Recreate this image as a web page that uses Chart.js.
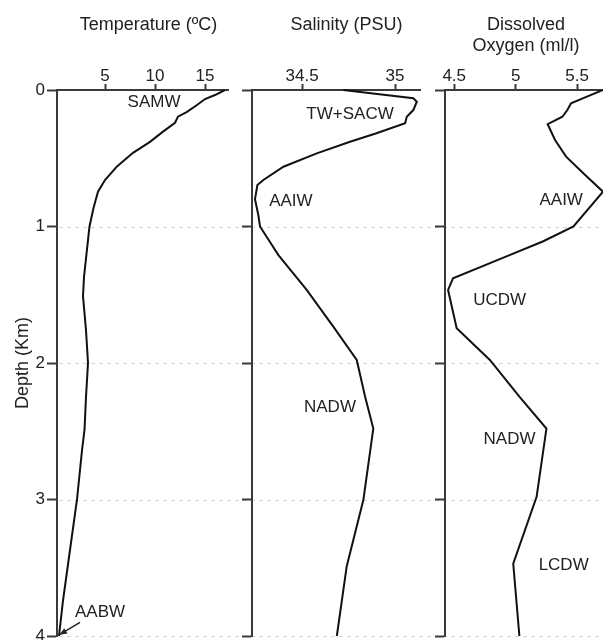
<!DOCTYPE html>
<html><head><meta charset="utf-8">
<script src="https://cdn.jsdelivr.net/npm/chart.js@4.4.1/dist/chart.umd.min.js"></script>
<style>
html,body{margin:0;padding:0;background:#fff;}
#wrap{position:relative;width:603px;height:640px;overflow:hidden;background:#fff;}
canvas{position:absolute;left:0;top:0;}
</style></head><body>
<div id="wrap">
<canvas id="c1" width="603" height="640"></canvas>
<canvas id="c2" width="603" height="640"></canvas>
<canvas id="c3" width="603" height="640"></canvas>
</div>
<script>
// ---------- data ----------
const depthTicks = [0, 1, 2, 3, 4];
const tempTicks = [5, 10, 15];
const salTicks = [34.5, 35];
const oxTicks = [4.5, 5, 5.5];

const tempDepth = [0, 0.037, 0.066, 0.11, 0.16, 0.195, 0.24, 0.305, 0.38, 0.46, 0.56, 0.66, 0.745, 0.865, 1.0, 1.2, 1.37, 1.51, 1.76, 2.0, 2.25, 2.49, 2.64, 3.0, 3.37, 3.74, 4.0];
const tempValues = [17.0, 16.0, 15.0, 14.2, 13.2, 12.3, 12.0, 10.8, 9.5, 7.8, 6.2, 5.0, 4.3, 3.85, 3.45, 3.15, 2.9, 2.8, 3.1, 3.3, 3.1, 2.95, 2.7, 2.2, 1.5, 0.8, 0.4];

const salDepth = [0, 0.061, 0.086, 0.147, 0.196, 0.244, 0.317, 0.379, 0.464, 0.562, 0.659, 0.696, 0.8, 0.916, 1.0, 1.21, 1.465, 1.734, 1.978, 2.247, 2.48, 3.0, 3.49, 4.0];
const salValues = [34.722, 35.098, 35.117, 35.098, 35.063, 35.054, 34.90, 34.758, 34.579, 34.40, 34.292, 34.26, 34.247, 34.265, 34.274, 34.373, 34.525, 34.668, 34.794, 34.839, 34.883, 34.83, 34.74, 34.687];

const oxDepth = [0, 0.06, 0.098, 0.147, 0.196, 0.25, 0.366, 0.488, 0.61, 0.745, 1.0, 1.11, 1.21, 1.38, 1.465, 1.746, 1.978, 2.247, 2.48, 2.98, 3.47, 4.0];
const oxValues = [5.71, 5.55, 5.45, 5.42, 5.38, 5.26, 5.32, 5.41, 5.55, 5.71, 5.47, 5.22, 4.95, 4.49, 4.45, 4.52, 4.79, 5.03, 5.25, 5.17, 4.98, 5.03];

const tempLabels = [{text: 'SAMW', x: 9.9, y: 0.088}, {text: 'AABW', x: 4.5, y: 3.83}];
const salLabels = [{text: 'TW+SACW', x: 34.758, y: 0.176}, {text: 'AAIW', x: 34.44, y: 0.817}, {text: 'NADW', x: 34.65, y: 2.326}];
const oxLabels = [{text: 'AAIW', x: 5.37, y: 0.806}, {text: 'UCDW', x: 4.87, y: 1.54}, {text: 'NADW', x: 4.95, y: 2.56}, {text: 'LCDW', x: 5.39, y: 3.48}];
const aabwArrow = {from: [2.5, 3.9], to: [0.45, 3.99]};

// ---------- styling / layout ----------
const FONT = "'Liberation Sans', Arial, Helvetica, sans-serif";
Chart.defaults.font.family = FONT;
Chart.defaults.color = '#222';
const AXIS = '#3a3a3a';

const panelText = {
  id: 'panelText',
  afterDatasetsDraw(chart, args, opts) {
    const ctx = chart.ctx;
    const xs = chart.scales.x, ys = chart.scales.y;
    ctx.save();
    ctx.fillStyle = '#222';
    ctx.font = '18px ' + FONT;
    ctx.textAlign = 'center';
    ctx.textBaseline = 'alphabetic';
    (opts.title || []).forEach((line, i) => ctx.fillText(line, opts.titleX, 29.5 + i * 21));
    ctx.font = '17px ' + FONT;
    ctx.textBaseline = 'middle';
    (opts.labels || []).forEach(l => ctx.fillText(l.text, xs.getPixelForValue(l.x), ys.getPixelForValue(l.y)));
    if (opts.arrow) {
      const a = opts.arrow;
      const x1 = xs.getPixelForValue(a.from[0]), y1 = ys.getPixelForValue(a.from[1]);
      const x2 = xs.getPixelForValue(a.to[0]), y2 = ys.getPixelForValue(a.to[1]);
      ctx.strokeStyle = '#222'; ctx.lineWidth = 1.5;
      ctx.beginPath(); ctx.moveTo(x1, y1); ctx.lineTo(x2, y2); ctx.stroke();
      const ang = Math.atan2(y2 - y1, x2 - x1), L = 8, W = 0.4;
      ctx.beginPath();
      ctx.moveTo(x2, y2);
      ctx.lineTo(x2 - L * Math.cos(ang - W), y2 - L * Math.sin(ang - W));
      ctx.lineTo(x2 - L * Math.cos(ang + W), y2 - L * Math.sin(ang + W));
      ctx.closePath(); ctx.fill();
    }
    ctx.restore();
  }
};

const wideGrid = {
  id: 'wideGrid',
  beforeDraw(chart, args, opts) {
    if (!opts.enabled) return;
    const ctx = chart.ctx, ys = chart.scales.y;
    ctx.save();
    ctx.strokeStyle = '#d4d4d4'; ctx.lineWidth = 1; ctx.setLineDash([4, 4]);
    depthTicks.forEach(v => {
      if (v === depthTicks[0]) return;
      const y = Math.round(ys.getPixelForValue(v)) + 0.5;
      ctx.beginPath(); ctx.moveTo(chart.chartArea.left + 2, y); ctx.lineTo(chart.width, y); ctx.stroke();
    });
    ctx.restore();
  }
};

function makePanel(id, cfg) {
  const pts = cfg.values.map((v, i) => ({x: v, y: cfg.depth[i]}));
  return new Chart(document.getElementById(id), {
    type: 'scatter',
    data: {datasets: [{data: pts, showLine: true, borderColor: '#111', borderWidth: 2, pointRadius: 0, tension: 0, clip: false}]},
    options: {
      responsive: false, animation: false, events: [],
      layout: {padding: {left: cfg.padLeft, right: cfg.padRight, top: 0, bottom: 4}},
      plugins: {
        legend: {display: false}, tooltip: {enabled: false},
        panelText: {title: cfg.title, titleX: cfg.titleX, labels: cfg.labels, arrow: cfg.arrow},
        wideGrid: {enabled: !!cfg.wideGrid}
      },
      scales: {
        x: {
          type: 'linear', position: 'top', min: cfg.min, max: cfg.max,
          afterBuildTicks: s => { s.ticks = cfg.ticks.map(v => ({value: v})); },
          afterFit: s => { s.height = 90; s.paddingLeft = 0; s.paddingRight = 0; },
          ticks: {callback: v => String(v), font: {size: 17, lineHeight: 1}, padding: -1, color: '#222', maxRotation: 0},
          grid: {drawOnChartArea: false, drawTicks: true, tickLength: 6, tickWidth: 2, tickColor: AXIS, color: AXIS, tickBorderDash: []},
          border: {display: true, color: AXIS, width: 2}
        },
        y: {
          type: 'linear', position: 'left', reverse: true, min: 0, max: 4,
          afterBuildTicks: s => { s.ticks = depthTicks.map(v => ({value: v})); },
          afterFit: s => { s.width = cfg.yWidth; s.paddingTop = 0; s.paddingBottom = 0; },
          ticks: {display: cfg.showDepth, callback: v => String(v), font: {size: 17}, padding: 2, color: '#222'},
          grid: {drawOnChartArea: false, drawTicks: true, tickLength: 10, tickWidth: 2, tickColor: AXIS, color: AXIS, tickBorderDash: []},
          border: {display: true, color: AXIS, width: 2},
          title: {display: cfg.showDepth, text: 'Depth (Km)', font: {size: 18}, color: '#222', padding: {top: 12, bottom: 0}}
        }
      }
    },
    plugins: [wideGrid, panelText]
  });
}

makePanel('c1', {
  depth: tempDepth, values: tempValues, ticks: tempTicks, min: 0.2, max: 17.3,
  padLeft: 0, padRight: 375, yWidth: 57, showDepth: true, wideGrid: true,
  title: ['Temperature (ºC)'], titleX: 148.5, labels: tempLabels, arrow: aabwArrow
});
makePanel('c2', {
  depth: salDepth, values: salValues, ticks: salTicks, min: 34.231, max: 35.134,
  padLeft: 242, padRight: 183, yWidth: 10, showDepth: false,
  title: ['Salinity (PSU)'], titleX: 346.5, labels: salLabels
});
makePanel('c3', {
  depth: oxDepth, values: oxValues, ticks: oxTicks, min: 4.425, max: 5.71,
  padLeft: 435, padRight: 0, yWidth: 10, showDepth: false,
  title: ['Dissolved', 'Oxygen (ml/l)'], titleX: 526, labels: oxLabels
});
</script>
</body></html>
